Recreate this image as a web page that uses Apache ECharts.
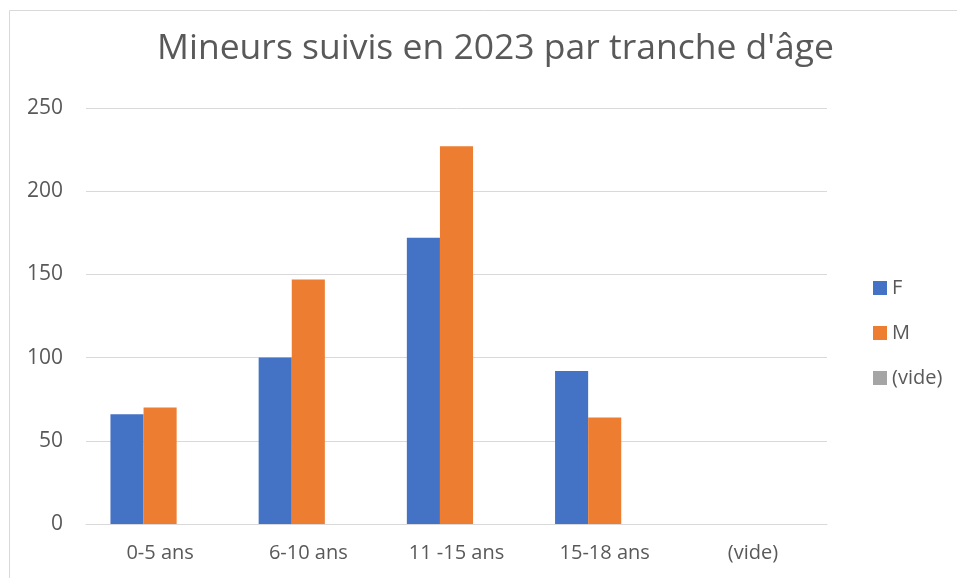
<!DOCTYPE html>
<html>
<head>
<meta charset="utf-8">
<script src="https://cdn.jsdelivr.net/npm/echarts@6/dist/echarts.min.js"></script>
<style>
  html, body { margin: 0; padding: 0; background: #fff; }
  #chart { width: 957px; height: 578px; }
</style>
</head>
<body>
<div id="chart"></div>
<script>
const categories = ['0-5 ans', '6-10 ans', '11 -15 ans', '15-18 ans', '(vide)']
const valuesF = [66, 100, 172, 92, null]
const valuesM = [70, 147, 227, 64, null]
const valuesVide = [null, null, null, null, null]
const yTicks = { min: 0, max: 250, interval: 50 }

const textColor = '#595959'
const font = '"Open Sans", "Noto Sans", sans-serif'

const chart = echarts.init(document.getElementById('chart'))
chart.setOption({
  animation: false,
  graphic: [{
    type: 'rect',
    shape: { x: 9.5, y: 10.5, width: 1000, height: 1000 },
    style: { fill: 'none', stroke: '#D9D9D9', lineWidth: 1 },
    silent: true
  }],
  title: {
    text: 'Mineurs suivis en 2023 par tranche d\'âge',
    left: 152,
    top: 26,
    textStyle: { color: textColor, fontFamily: font, fontSize: 35.5, fontWeight: 'normal' }
  },
  legend: {
    orient: 'vertical',
    left: 868,
    top: 273,
    itemWidth: 14,
    itemHeight: 14,
    itemGap: 25,
    icon: 'rect',
    textStyle: { color: textColor, fontFamily: font, fontSize: 20 },
    data: ['F', 'M', '(vide)']
  },
  grid: { left: 86, right: 130, top: 108, bottom: 54, containLabel: false },
  xAxis: {
    type: 'category',
    data: categories,
    axisLine: { lineStyle: { color: '#D9D9D9', width: 1 } },
    axisTick: { show: false },
    axisLabel: { color: textColor, fontFamily: font, fontSize: 20, margin: 19 }
  },
  yAxis: {
    type: 'value',
    min: yTicks.min,
    max: yTicks.max,
    interval: yTicks.interval,
    axisLine: { show: false },
    axisTick: { show: false },
    axisLabel: { color: textColor, fontFamily: font, fontSize: 21, margin: 23 },
    splitLine: { lineStyle: { color: '#D9D9D9', width: 1 } }
  },
  series: [
    { name: 'F', type: 'bar', data: valuesF, barGap: '0%', barCategoryGap: '33%', itemStyle: { color: '#4472C4' } },
    { name: 'M', type: 'bar', data: valuesM, barGap: '0%', barCategoryGap: '33%', itemStyle: { color: '#ED7D31' } },
    { name: '(vide)', type: 'bar', data: valuesVide, barGap: '0%', barCategoryGap: '33%', itemStyle: { color: '#A5A5A5' } }
  ]
})
</script>
</body>
</html>
